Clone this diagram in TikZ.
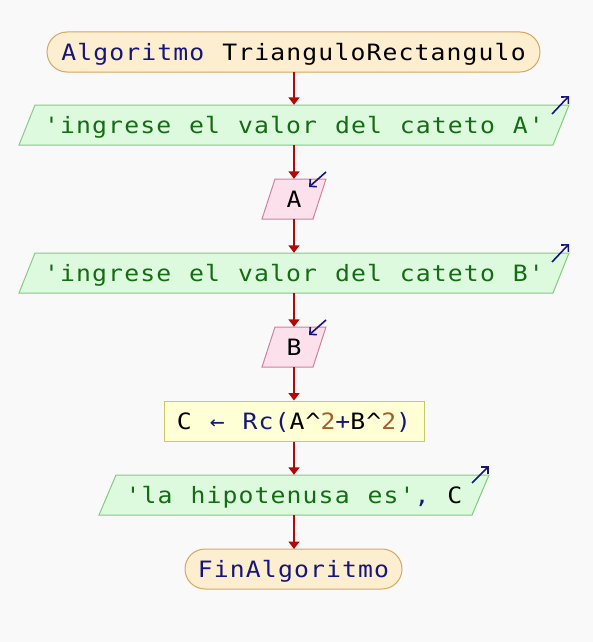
\documentclass[tikz,border=0pt]{standalone}
\usepackage{fontspec}
\newfontfamily\codefont[FakeStretch=1.1,LetterSpace=5,WordSpace=1.12,Ligatures=TeXOff]{DejaVu Sans Mono}
\usetikzlibrary{arrows.meta}

% palette
\definecolor{bgcol}{RGB}{249,249,249}
\definecolor{termfill}{RGB}{253,238,208}
\definecolor{termdraw}{RGB}{212,168,98}
\definecolor{outfill}{RGB}{222,250,222}
\definecolor{outdraw}{RGB}{128,204,128}
\definecolor{infill}{RGB}{252,224,236}
\definecolor{indraw}{RGB}{208,128,160}
\definecolor{procfill}{RGB}{255,255,214}
\definecolor{procdraw}{RGB}{200,200,100}
\definecolor{flowcol}{RGB}{178,8,8}
\definecolor{kwblue}{RGB}{22,22,122}
\definecolor{strgreen}{RGB}{20,108,20}
\definecolor{numbrown}{RGB}{168,92,40}

% syntax colouring helpers
\newcommand\kwd[1]{\textcolor{kwblue}{#1}}
\newcommand\strlit[1]{\textcolor{strgreen}{#1}}
\newcommand\numlit[1]{\textcolor{numbrown}{#1}}

\begin{document}
\begin{tikzpicture}[x=1pt,y=-1pt,
  codetext/.style={font=\codefont\fontsize{22.5}{24}\selectfont, inner sep=0pt,
    text height=16.2pt, text depth=0pt, minimum height=40pt, anchor=center},
  termbox/.style={codetext, draw=termdraw, fill=termfill, line width=1pt, rounded corners=20pt},
  procbox/.style={codetext, draw=procdraw, fill=procfill, line width=1pt},
  outshape/.style={draw=outdraw, fill=outfill, line width=1pt},
  inshape/.style={draw=indraw, fill=infill, line width=1pt},
  flow/.style={draw=flowcol, line width=1.6pt, -{Triangle[length=7.5pt,width=11pt]}},
  ioarrow/.style={draw=kwblue, line width=1.6pt, -{Straight Barb[length=5pt,width=10pt]}}
]
\fill[bgcol] (0,0) rectangle (593,642);
\useasboundingbox (0,0) rectangle (593,642);

% start
\node[termbox, minimum width=493pt] (start) at (293.5,52) {\kwd{Algoritmo} TrianguloRectangulo};

% output: prompt for A
\draw[outshape] (35,105) -- (569,105) -- (553,145) -- (19,145) -- cycle;
\node[codetext] (outA) at (294,125) {\strlit{'ingrese el valor del cateto A'}};
\coordinate (outA-tr) at (569,105);

% input A
\draw[inshape] (275,179) -- (326,179) -- (313,219) -- (262,219) -- cycle;
\node[codetext] (inA) at (294,199) {A};
\coordinate (inA-tr) at (326,179);

% output: prompt for B
\draw[outshape] (35,253) -- (569,253) -- (553,293) -- (19,293) -- cycle;
\node[codetext] (outB) at (294,273) {\strlit{'ingrese el valor del cateto B'}};
\coordinate (outB-tr) at (569,253);

% input B
\draw[inshape] (275,327) -- (326,327) -- (313,367) -- (262,367) -- cycle;
\node[codetext] (inB) at (294,347) {B};
\coordinate (inB-tr) at (326,327);

% hypotenuse
\node[procbox, minimum width=260pt] (proc) at (294,421)
  {C \kwd{←} \kwd{Rc(}A\textasciicircum\numlit{2}\kwd{+}B\textasciicircum\numlit{2}\kwd{)}};

% output result
\draw[outshape] (116,475) -- (489,475) -- (472,515) -- (99,515) -- cycle;
\node[codetext] (outC) at (294,495) {\strlit{'la hipotenusa es'}\kwd{,} C};
\coordinate (outC-tr) at (489,475);

% end
\node[termbox, minimum width=217pt] (finish) at (293.5,569) {\kwd{FinAlgoritmo}};

% flow
\draw[flow] (294,72) -- (outA.north);
\draw[flow] (outA.south) -- (inA.north);
\draw[flow] (inA.south) -- (outB.north);
\draw[flow] (outB.south) -- (inB.north);
\draw[flow] (inB.south) -- (proc.north);
\draw[flow] (proc.south) -- (outC.north);
\draw[flow] (outC.south) -- (294,549);

% input / output markers
\draw[ioarrow] ([shift={(-17,9)}]outA-tr) -- ([shift={(0,-9)}]outA-tr);
\draw[ioarrow] ([shift={(-17,9)}]outB-tr) -- ([shift={(0,-9)}]outB-tr);
\draw[ioarrow] ([shift={(-17,8)}]outC-tr) -- ([shift={(0,-9)}]outC-tr);
\draw[ioarrow] ([shift={(0,-7)}]inA-tr) -- ([shift={(-17,8)}]inA-tr);
\draw[ioarrow] ([shift={(0,-7)}]inB-tr) -- ([shift={(-17,8)}]inB-tr);
\end{tikzpicture}
\end{document}
